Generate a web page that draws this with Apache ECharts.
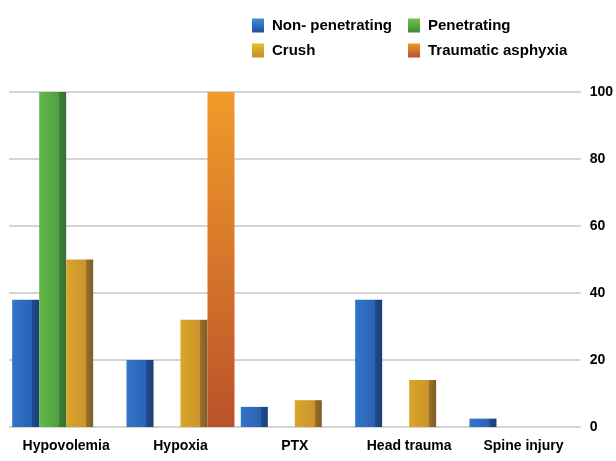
<!DOCTYPE html>
<html><head><meta charset="utf-8">
<script src="https://cdn.jsdelivr.net/npm/echarts@6/dist/echarts.min.js"></script>
<style>html,body{margin:0;padding:0;background:#fff}#c{width:616px;height:461px}</style>
</head><body><div id="c"></div>
<script>
var categories = ['Hypovolemia', 'Hypoxia', 'PTX', 'Head trauma', 'Spine injury'];
var nonPenetrating = [38, 20, 6, 38, 2.5];
var penetrating = [100, 0, 0, 0, 0];
var crush = [50, 32, 8, 14, 0];
var traumaticAsphyxia = [0, 100, 0, 0, 0];
var yTicks = [0, 20, 40, 60, 80, 100];

var FONT = '"Liberation Sans", Arial, sans-serif';
function hgrad(a, b, c, d) {
  return new echarts.graphic.LinearGradient(0, 0, 1, 0, [
    {offset: 0, color: a}, {offset: 0.74, color: b},
    {offset: 0.74, color: c}, {offset: 1, color: d}]);
}
function vgrad(a, b) {
  return new echarts.graphic.LinearGradient(0, 0, 0, 1, [
    {offset: 0, color: a}, {offset: 1, color: b}]);
}
var colBlue = hgrad('#3275c8', '#2a62b4', '#1f4b8e', '#1a3e78');
var colGreen = hgrad('#66b848', '#4f9e40', '#3e8236', '#356f2f');
var colCrush = hgrad('#d8a62a', '#cc932c', '#9a702a', '#7e5c26');
var colTA = vgrad('#f29a2a', '#b9522a');

function mk(name, data, color) {
  return {
    name: name, type: 'bar', data: data.map(function (v) { return v === 0 ? null : v; }),
    barWidth: 27, barGap: '0%',
    itemStyle: {color: color}
  };
}
var chart = echarts.init(document.getElementById('c'));
var legendText = {fontFamily: FONT, fontWeight: 'bold', fontSize: 15, color: '#000', padding: [0, 0, 0, 3]};
chart.setOption({
  animation: false,
  legend: [{
    orient: 'vertical', left: 247, top: 13, itemWidth: 12, itemHeight: 14, itemGap: 10,
    textStyle: legendText, icon: 'rect',
    data: [
      {name: 'Non- penetrating', itemStyle: {color: vgrad('#3f8fd8', '#1f4f9e')}},
      {name: 'Crush', itemStyle: {color: vgrad('#e0c224', '#c98a2a')}}
    ]
  }, {
    orient: 'vertical', left: 403, top: 13, itemWidth: 12, itemHeight: 14, itemGap: 10,
    textStyle: legendText, icon: 'rect',
    data: [
      {name: 'Penetrating', itemStyle: {color: vgrad('#74c44c', '#3e8a3a')}},
      {name: 'Traumatic asphyxia', itemStyle: {color: vgrad('#f0962a', '#b8502a')}}
    ]
  }],
  grid: {left: 9, right: 27, top: 92, bottom: 34},
  xAxis: {
    type: 'category', data: categories,
    axisLine: {show: false}, axisTick: {show: false},
    axisLabel: {fontFamily: FONT, fontWeight: 'bold', fontSize: 14, color: '#000', margin: 12, interval: 0}
  },
  yAxis: {
    type: 'value', position: 'right', min: yTicks[0], max: yTicks[yTicks.length - 1], interval: 20,
    axisLine: {show: false}, axisTick: {show: false},
    axisLabel: {fontFamily: FONT, fontWeight: 'bold', fontSize: 14, color: '#000', margin: 9},
    splitLine: {lineStyle: {color: '#d4d4d4', width: 2}}
  },
  series: [
    mk('Non- penetrating', nonPenetrating, colBlue),
    mk('Penetrating', penetrating, colGreen),
    mk('Crush', crush, colCrush),
    mk('Traumatic asphyxia', traumaticAsphyxia, colTA)
  ]
});
</script></body></html>
